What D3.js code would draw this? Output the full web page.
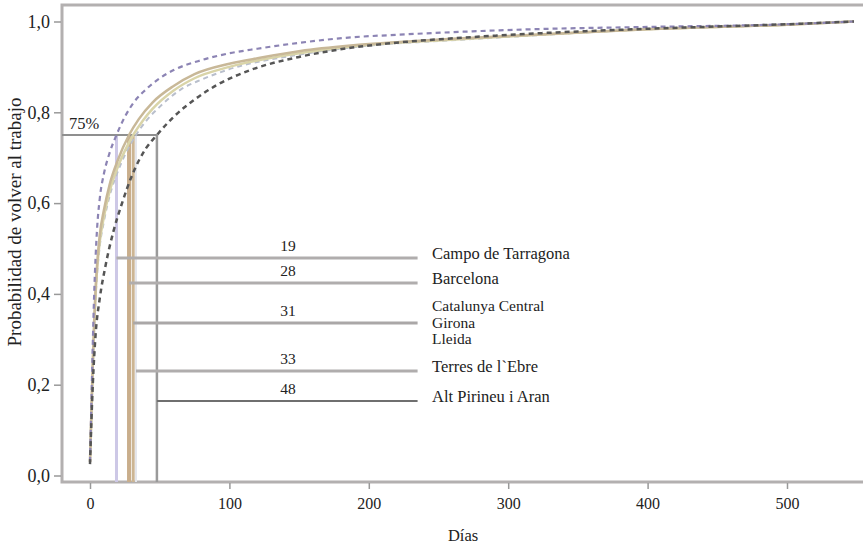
<!DOCTYPE html>
<html>
<head>
<meta charset="utf-8">
<script src="https://cdn.jsdelivr.net/npm/d3@7"></script>
<style>
  body { margin: 0; background: #fff; }
</style>
</head>
<body>
<svg id="chart" width="863" height="546"></svg>
<script>
// curves: days and probability of returning to work
const campoDays = [0, 1, 2, 3, 4, 5, 7, 10, 14, 19, 25, 31, 40, 50, 60, 80, 100, 120, 150, 187, 222, 280, 330, 400, 500, 548];
const campoProb = [0.03, 0.16, 0.29, 0.4, 0.48, 0.54, 0.61, 0.665, 0.71, 0.75, 0.79, 0.82, 0.85, 0.875, 0.893, 0.915, 0.93, 0.94, 0.953, 0.965, 0.971, 0.979, 0.984, 0.988, 0.994, 1.0];

const bcnDays = [0, 1, 2, 3, 4, 5, 7, 10, 14, 20, 28, 35, 45, 60, 75, 100, 122, 151, 187, 222, 260, 300, 400, 500, 548];
const bcnProb = [0.03, 0.14, 0.25, 0.34, 0.41, 0.46, 0.53, 0.585, 0.64, 0.695, 0.75, 0.785, 0.822, 0.858, 0.884, 0.907, 0.92, 0.935, 0.947, 0.955, 0.962, 0.968, 0.983, 0.993, 1.0];

const centralDays = [0, 1, 2, 3, 4, 5, 7, 10, 14, 20, 25, 31, 38, 45, 60, 75, 100, 150, 200, 250, 300, 400, 500, 548];
const centralProb = [0.03, 0.13, 0.24, 0.33, 0.4, 0.45, 0.515, 0.57, 0.625, 0.68, 0.715, 0.75, 0.782, 0.808, 0.848, 0.875, 0.9, 0.93, 0.949, 0.958, 0.967, 0.983, 0.993, 1.0];

const ebreDays = [0, 1, 2, 3, 4, 5, 7, 10, 14, 20, 26, 33, 40, 50, 65, 80, 100, 150, 200, 250, 300, 400, 500, 548];
const ebreProb = [0.03, 0.13, 0.23, 0.32, 0.39, 0.44, 0.505, 0.56, 0.615, 0.67, 0.712, 0.75, 0.78, 0.812, 0.85, 0.872, 0.895, 0.927, 0.947, 0.957, 0.966, 0.983, 0.993, 1.0];

const pirineuDays = [0, 2, 4, 7, 11, 17, 23, 30, 40, 48, 60, 75, 91, 115, 150, 187, 222, 256, 292, 328, 400, 500, 548];
const pirineuProb = [0.025, 0.2, 0.31, 0.39, 0.46, 0.54, 0.6, 0.66, 0.72, 0.75, 0.79, 0.828, 0.86, 0.893, 0.922, 0.942, 0.954, 0.962, 0.969, 0.975, 0.984, 0.994, 1.0];

// medians (days to reach 75%) and annotations
const medianDays = [19, 28, 31, 33, 48];
const regionLabels = [["Campo de Tarragona"], ["Barcelona"], ["Catalunya Central", "Girona", "Lleida"], ["Terres de l`Ebre"], ["Alt Pirineu i Aran"]];
const leaderProb = [0.479, 0.424, 0.336, 0.23, 0.164];
const xTicks = [0, 100, 200, 300, 400, 500];
const yTicks = [0, 0.2, 0.4, 0.6, 0.8, 1.0];

const serif = "Liberation Serif, Times New Roman, serif";
const svg = d3.select("#chart");

const x = d3.scaleLinear().domain([0, 500]).range([90, 787]);
const y = d3.scaleLinear().domain([0, 1]).range([475.5, 21.5]);

const frame = { left: 62, top: 5, bottom: 482, right: 875 };

// frame
svg.append("path")
  .attr("d", `M${frame.right},${frame.top}H${frame.left}V${frame.bottom}H${frame.right}`)
  .attr("fill", "none")
  .attr("stroke", "#b3b0b0")
  .attr("stroke-width", 3);

// y axis
const yAxis = svg.append("g")
  .attr("transform", `translate(${frame.left - 1},0)`)
  .call(d3.axisLeft(y).tickValues(yTicks).tickSize(7).tickPadding(4)
    .tickFormat(d => d3.format(".1f")(d).replace(".", ",")));
yAxis.select(".domain").remove();
yAxis.selectAll("line").attr("stroke", "#999").attr("stroke-width", 1.5);
yAxis.selectAll("text").attr("font-family", serif).attr("font-size", 18).attr("fill", "#222");

// x axis
const xAxis = svg.append("g")
  .attr("transform", `translate(0,${frame.bottom + 1})`)
  .call(d3.axisBottom(x).tickValues(xTicks).tickSize(6).tickPadding(9));
xAxis.select(".domain").remove();
xAxis.selectAll("line").attr("stroke", "#999").attr("stroke-width", 1.5);
xAxis.selectAll("text").attr("font-family", serif).attr("font-size", 16).attr("fill", "#222");

// axis titles
svg.append("text")
  .attr("transform", `translate(21,222) rotate(-90)`)
  .attr("text-anchor", "middle")
  .attr("font-family", serif).attr("font-size", 19).attr("fill", "#222")
  .text("Probabilidad de volver al trabajo");

svg.append("text")
  .attr("x", 463).attr("y", 541)
  .attr("text-anchor", "middle")
  .attr("font-family", serif).attr("font-size", 16.5).attr("fill", "#222")
  .text("Días");

// vertical median lines
const vColors = ["#cdc8e6", "#c9ae8c", "#ccb593", "#e4e6ec", "#9a9a9a"];
const vWidths = [3, 4, 3, 2, 2.5];
svg.append("g").selectAll("line")
  .data(medianDays)
  .join("line")
  .attr("x1", d => x(d)).attr("x2", d => x(d))
  .attr("y1", y(0.75)).attr("y2", frame.bottom)
  .attr("stroke", (d, i) => vColors[i])
  .attr("stroke-width", (d, i) => vWidths[i]);

// 75% line
svg.append("line")
  .attr("x1", frame.left).attr("x2", x(d3.max(medianDays)))
  .attr("y1", y(0.75)).attr("y2", y(0.75))
  .attr("stroke", "#8f8f8f").attr("stroke-width", 2);
svg.append("text")
  .attr("x", 69).attr("y", y(0.75) - 6)
  .attr("font-family", serif).attr("font-size", 16.5).attr("fill", "#222")
  .text("75%");

// curves
const line = d3.line().x(d => x(d[0])).y(d => y(d[1])).curve(d3.curveMonotoneX);
const curves = [
  { days: ebreDays, prob: ebreProb, color: "#b9bfcc", width: 2, dash: "5,4" },
  { days: centralDays, prob: centralProb, color: "#d9d4a8", width: 2.5, dash: null },
  { days: bcnDays, prob: bcnProb, color: "#c8b898", width: 2.5, dash: null },
  { days: campoDays, prob: campoProb, color: "#8c84b4", width: 2.2, dash: "5,4" },
  { days: pirineuDays, prob: pirineuProb, color: "#555", width: 2.5, dash: "5,4" }
];
svg.append("g").selectAll("path")
  .data(curves)
  .join("path")
  .attr("d", c => line(c.days.map((d, i) => [d, c.prob[i]])))
  .attr("fill", "none")
  .attr("stroke", c => c.color)
  .attr("stroke-width", c => c.width)
  .attr("stroke-dasharray", c => c.dash);

// leader lines, numbers and region labels
const leaderEnd = 235;
const leaderColors = ["#b0adad", "#b0adad", "#aaa7a7", "#b0adad", "#6f6f6f"];
const leaderWidths = [3, 3, 3, 3, 2];
const ann = svg.append("g");
medianDays.forEach((m, i) => {
  const ly = y(leaderProb[i]);
  ann.append("line")
    .attr("x1", x(m)).attr("x2", x(leaderEnd))
    .attr("y1", ly).attr("y2", ly)
    .attr("stroke", leaderColors[i])
    .attr("stroke-width", leaderWidths[i]);
  if (i === 1) {
    ann.append("rect")
      .attr("x", 276).attr("y", ly - 22).attr("width", 26).attr("height", 20)
      .attr("fill", "#fff");
  }
  ann.append("text")
    .attr("x", 288).attr("y", ly - 7)
    .attr("text-anchor", "middle")
    .attr("font-family", serif).attr("font-size", 15.5).attr("fill", "#222")
    .text(m);
  const lines = regionLabels[i];
  lines.forEach((t, j) => {
    ann.append("text")
      .attr("x", 432)
      .attr("y", ly + 1 + (j - (lines.length - 1) / 2) * 16.5 + (lines.length > 1 ? 4 : 0))
      .attr("font-family", serif).attr("font-size", lines.length > 1 ? 15.5 : 16.5).attr("fill", "#222")
      .text(t);
  });
});
</script>
</body>
</html>
